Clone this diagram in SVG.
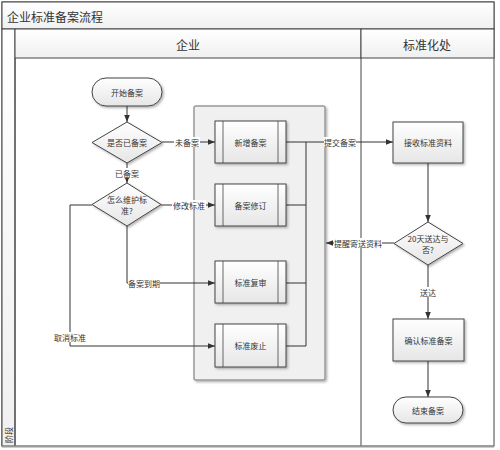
<svg xmlns="http://www.w3.org/2000/svg" width="500" height="450" viewBox="0 0 500 450">
<style>
text{font-family:"Noto Sans CJK SC","Noto Sans",sans-serif;fill:#333;}
.t8{font-size:8px;text-anchor:middle;dominant-baseline:central;}
.lbl{font-size:8px;text-anchor:middle;dominant-baseline:central;}
.hd{font-size:12px;text-anchor:middle;dominant-baseline:central;}
.node{fill:url(#g);stroke:#444;stroke-width:1;filter:url(#sh);}
.inner{stroke:#444;stroke-width:0.8;fill:none;}
.conn{fill:none;stroke:#333;stroke-width:1;}
.frame{fill:none;stroke:#444;stroke-width:1;}
</style>
<defs>
<linearGradient id="g" x1="0" y1="0" x2="0" y2="1">
<stop offset="0" stop-color="#ffffff"/>
<stop offset="1" stop-color="#e6e6e6"/>
</linearGradient>
<linearGradient id="hg" x1="0" y1="0" x2="0" y2="1">
<stop offset="0" stop-color="#ffffff"/>
<stop offset="1" stop-color="#f0f0f0"/>
</linearGradient>
<filter id="sh" x="-20%" y="-20%" width="140%" height="140%">
<feDropShadow dx="1.5" dy="1.5" stdDeviation="0.8" flood-color="#000" flood-opacity="0.3"/>
</filter>
<marker id="ar" viewBox="0 0 10 10" refX="10" refY="5" markerWidth="7" markerHeight="7" orient="auto" markerUnits="userSpaceOnUse">
<path d="M0,1 L10,5 L0,9 z" fill="#333"/>
</marker>
</defs>
<rect x="0" y="0" width="500" height="450" fill="#fff"/>
<g id="frame">
<rect x="2" y="2" width="492" height="444" fill="#fff" stroke="#444"/>
<rect x="2" y="2" width="492" height="27" fill="url(#hg)" stroke="#444"/>
<text x="7" y="16" style="font-size:12px;dominant-baseline:central;">企业标准备案流程</text>
<rect x="2" y="29" width="13" height="417" fill="url(#hg)" stroke="#444"/>
<text transform="translate(8.5,435) rotate(-90)" style="font-size:8px;text-anchor:middle;dominant-baseline:central;">阶段</text>
<rect x="15" y="29" width="346" height="29" fill="url(#hg)" stroke="#444"/>
<text x="188" y="44" class="hd">企业</text>
<rect x="361" y="29" width="133" height="29" fill="url(#hg)" stroke="#444"/>
<text x="427" y="44" class="hd">标准化处</text>
<line x1="15" y1="58" x2="15" y2="446" stroke="#444"/>
<line x1="361" y1="58" x2="361" y2="446" stroke="#444"/>
<line x1="2" y1="446.5" x2="494" y2="446.5" stroke="#999" stroke-width="2"/>
</g>
<g id="container">
<rect x="194" y="106" width="131" height="274" rx="2" fill="#f0f0f0" stroke="#999" stroke-width="1.5" filter="url(#sh)"/>
</g>
<g id="connectors">
<line class="conn" x1="127" y1="106" x2="127" y2="122" marker-end="url(#ar)"/>
<line class="conn" x1="162" y1="142" x2="215" y2="142" marker-end="url(#ar)"/>
<line class="conn" x1="127" y1="163" x2="127" y2="183" marker-end="url(#ar)"/>
<line class="conn" x1="161" y1="205" x2="215" y2="205" marker-end="url(#ar)"/>
<polyline class="conn" points="127,226 127,283 215,283" marker-end="url(#ar)"/>
<polyline class="conn" points="92,205 70,205 70,346 215,346" marker-end="url(#ar)"/>
<line class="conn" x1="286" y1="142" x2="393" y2="142" marker-end="url(#ar)"/>
<line class="conn" x1="306" y1="142" x2="306" y2="346"/>
<line class="conn" x1="286" y1="205" x2="306" y2="205"/>
<line class="conn" x1="286" y1="283" x2="306" y2="283"/>
<line class="conn" x1="286" y1="346" x2="306" y2="346"/>
<line class="conn" x1="428" y1="163" x2="428" y2="222" marker-end="url(#ar)"/>
<line class="conn" x1="394" y1="243" x2="326" y2="243" marker-end="url(#ar)"/>
<line class="conn" x1="428" y1="265" x2="428" y2="319" marker-end="url(#ar)"/>
<line class="conn" x1="428" y1="361" x2="428" y2="397" marker-end="url(#ar)"/>
<rect x="116" y="168" width="22" height="10" fill="#fff"/>
<text x="127" y="173" class="lbl">已备案</text>
<rect x="174" y="137" width="26" height="10" fill="#fff"/>
<text x="187" y="142" class="lbl">未备案</text>
<rect x="172" y="200" width="34" height="10" fill="#fff"/>
<text x="189" y="205" class="lbl">修改标准</text>
<rect x="128" y="278" width="32" height="10" fill="#fff"/>
<text x="144" y="283" class="lbl">备案到期</text>
<rect x="54" y="332" width="32" height="10" fill="#fff"/>
<text x="70" y="337" class="lbl">取消标准</text>
<rect x="324" y="137" width="32" height="10" fill="#fff"/>
<text x="340" y="142" class="lbl">提交备案</text>
<rect x="334" y="238" width="48" height="10" fill="#fff"/>
<text x="358" y="243" class="lbl">提醒寄送资料</text>
<rect x="418" y="287" width="20" height="10" fill="#fff"/>
<text x="428" y="292" class="lbl">送达</text>
</g>
<g id="start">
<rect x="92" y="78" width="70" height="28" rx="14" class="node"/>
<text x="127" y="92" class="t8">开始备案</text>
</g>
<g id="d1">
<polygon points="127,122 162,142.5 127,163 92,142.5" class="node"/>
<text x="127" y="142.5" class="t8">是否已备案</text>
</g>
<g id="d2">
<polygon points="127,183 161,204.5 127,226 92,204.5" class="node"/>
<text x="127" y="199" class="t8">怎么维护标</text>
<text x="127" y="210" class="t8">准?</text>
</g>
<g id="p1">
<rect x="215" y="121" width="71" height="42" class="node"/>
<line class="inner" x1="223" y1="121" x2="223" y2="163"/>
<line class="inner" x1="278" y1="121" x2="278" y2="163"/>
<text x="250.5" y="142" class="t8">新增备案</text>
</g>
<g id="p2">
<rect x="215" y="184" width="71" height="42" class="node"/>
<line class="inner" x1="223" y1="184" x2="223" y2="226"/>
<line class="inner" x1="278" y1="184" x2="278" y2="226"/>
<text x="250.5" y="205" class="t8">备案修订</text>
</g>
<g id="p3">
<rect x="215" y="261" width="71" height="42" class="node"/>
<line class="inner" x1="223" y1="261" x2="223" y2="303"/>
<line class="inner" x1="278" y1="261" x2="278" y2="303"/>
<text x="250.5" y="282" class="t8">标准复审</text>
</g>
<g id="p4">
<rect x="215" y="324" width="71" height="43" class="node"/>
<line class="inner" x1="223" y1="324" x2="223" y2="367"/>
<line class="inner" x1="278" y1="324" x2="278" y2="367"/>
<text x="250.5" y="345.5" class="t8">标准废止</text>
</g>
<g id="recv">
<rect x="393" y="122" width="70" height="41" class="node"/>
<text x="428" y="142.5" class="t8">接收标准资料</text>
</g>
<g id="d3">
<polygon points="428,222 463,243.5 428,265 394,243.5" class="node"/>
<text x="428" y="238" class="t8">20天送达与</text>
<text x="428" y="249" class="t8">否?</text>
</g>
<g id="confirm">
<rect x="393" y="319" width="71" height="42" class="node"/>
<text x="428.5" y="340" class="t8">确认标准备案</text>
</g>
<g id="end">
<rect x="393" y="397" width="70" height="26" rx="13" class="node"/>
<text x="428" y="410" class="t8">结束备案</text>
</g>
</svg>
